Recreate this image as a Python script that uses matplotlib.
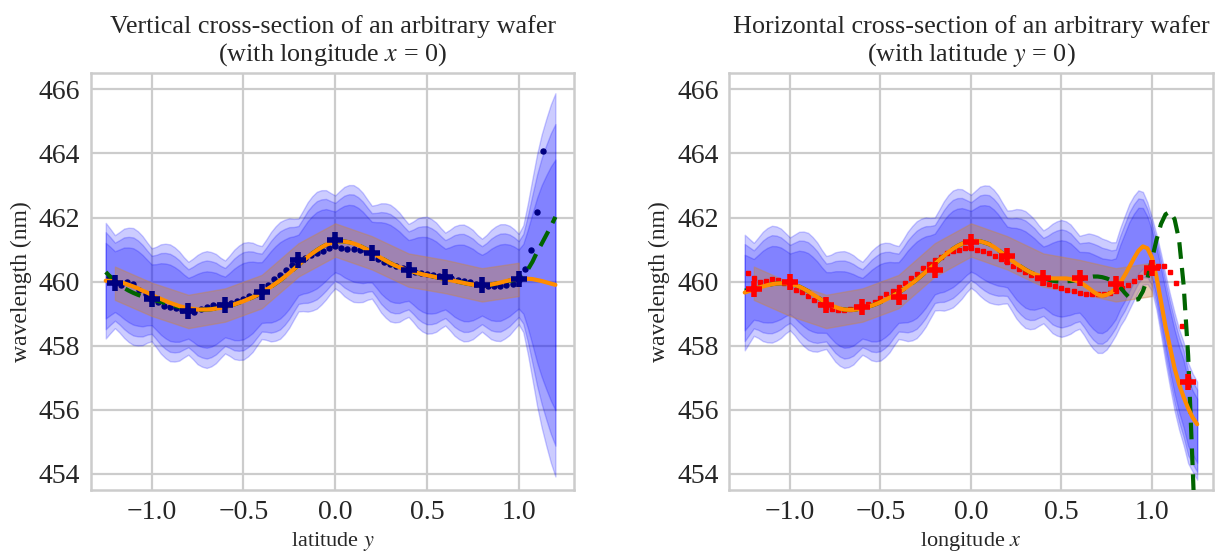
import matplotlib
matplotlib.use("Agg")
import matplotlib.pyplot as plt
import seaborn as sns
import numpy as np

sns.set_style("whitegrid")
plt.rcParams['font.family'] = ['Liberation Serif', 'DejaVu Serif']
plt.rcParams['mathtext.fontset'] = 'stix'

# ======================= LEFT PANEL (vertical cross-section, x = 0) =======================
cross_x = [-1.2, -1.0, -0.8, -0.6, -0.4, -0.2, 0.0, 0.2, 0.4, 0.6, 0.8, 1.0]
left_cross = [459.95, 459.45, 459.07, 459.27, 459.69, 460.68, 461.30, 460.90, 460.36, 460.16, 459.90, 460.07]
tan_half = 0.52

curve_x_left = [
    -1.25, -1.225, -1.2, -1.175, -1.15, -1.125, -1.1, -1.075, -1.05, -1.025,
    -1.0, -0.975, -0.95, -0.925, -0.9, -0.875, -0.85, -0.825, -0.8, -0.775,
    -0.75, -0.725, -0.7, -0.675, -0.65, -0.625, -0.6, -0.575, -0.55, -0.525,
    -0.5, -0.475, -0.45, -0.425, -0.4, -0.375, -0.35, -0.325, -0.3, -0.275,
    -0.25, -0.225, -0.2, -0.175, -0.15, -0.125, -0.1, -0.075, -0.05, -0.025,
    0.0, 0.025, 0.05, 0.075, 0.1, 0.125, 0.15, 0.175, 0.2, 0.225,
    0.25, 0.275, 0.3, 0.325, 0.35, 0.375, 0.4, 0.425, 0.45, 0.475,
    0.5, 0.525, 0.55, 0.575, 0.6, 0.625, 0.65, 0.675, 0.7, 0.725,
    0.75, 0.775, 0.8, 0.825, 0.85, 0.875, 0.9, 0.925, 0.95, 0.975,
    1.0, 1.025, 1.05, 1.075, 1.1, 1.125, 1.15, 1.175, 1.2]
orange_left = [
    460.03, 460.02, 460.00, 459.98, 459.95, 459.90, 459.85, 459.79, 459.72, 459.66,
    459.59, 459.52, 459.46, 459.40, 459.34, 459.29, 459.24, 459.20, 459.17, 459.15,
    459.13, 459.13, 459.13, 459.14, 459.16, 459.18, 459.21, 459.25, 459.29, 459.34,
    459.39, 459.45, 459.51, 459.58, 459.66, 459.75, 459.84, 459.94, 460.04, 460.15,
    460.27, 460.39, 460.52, 460.65, 460.77, 460.88, 460.98, 461.07, 461.15, 461.20,
    461.24, 461.26, 461.25, 461.23, 461.19, 461.14, 461.07, 461.00, 460.92, 460.83,
    460.74, 460.66, 460.58, 460.51, 460.45, 460.40, 460.35, 460.31, 460.27, 460.23,
    460.20, 460.17, 460.14, 460.11, 460.08, 460.05, 460.02, 459.99, 459.96, 459.93,
    459.91, 459.89, 459.89, 459.89, 459.91, 459.94, 459.97, 460.01, 460.04, 460.07,
    460.08, 460.09, 460.09, 460.08, 460.05, 460.02, 459.98, 459.94, 459.90]
green_left = [
    460.30, 460.15, 460.02, 459.90, 459.80, 459.72, 459.65, 459.59, 459.54, 459.49,
    459.45, 459.41, 459.37, 459.33, 459.29, 459.25, 459.21, 459.18, 459.15, 459.13,
    459.12, 459.12, 459.13, 459.14, 459.16, 459.18, 459.21, 459.25, 459.29, 459.34,
    459.39, 459.45, 459.51, 459.58, 459.66, 459.75, 459.84, 459.94, 460.04, 460.15,
    460.27, 460.39, 460.52, 460.65, 460.77, 460.88, 460.98, 461.07, 461.15, 461.20,
    461.24, 461.26, 461.25, 461.23, 461.19, 461.14, 461.07, 461.00, 460.92, 460.83,
    460.74, 460.66, 460.58, 460.51, 460.45, 460.40, 460.35, 460.31, 460.27, 460.23,
    460.20, 460.17, 460.14, 460.11, 460.08, 460.05, 460.02, 459.99, 459.96, 459.93,
    459.91, 459.89, 459.89, 459.89, 459.91, 459.94, 459.97, 460.00, 460.03, 460.05,
    460.10, 460.20, 460.38, 460.62, 460.92, 461.18, 461.45, 461.72, 462.02]
# standard deviation of the blue confidence bands (centred on the orange curve)
sigma_left = [
    0.92, 0.83,
    0.74, 0.80, 0.87, 0.91, 0.93, 0.91, 0.87, 0.80,
    0.74, 0.80, 0.87, 0.91, 0.93, 0.91, 0.87, 0.80,
    0.74, 0.80, 0.87, 0.91, 0.93, 0.91, 0.87, 0.80,
    0.74, 0.80, 0.87, 0.91, 0.93, 0.91, 0.87, 0.80,
    0.74, 0.80, 0.87, 0.91, 0.93, 0.91, 0.87, 0.80,
    0.74, 0.80, 0.87, 0.91, 0.93, 0.91, 0.87, 0.80,
    0.74, 0.80, 0.87, 0.91, 0.93, 0.91, 0.87, 0.80,
    0.74, 0.80, 0.87, 0.91, 0.93, 0.91, 0.87, 0.80,
    0.74, 0.80, 0.87, 0.91, 0.93, 0.91, 0.87, 0.80,
    0.74, 0.80, 0.87, 0.91, 0.93, 0.91, 0.87, 0.80,
    0.74, 0.80, 0.87, 0.91, 0.93, 0.91, 0.87, 0.80,
    0.72, 0.85, 1.20, 1.60, 2.00, 2.33, 2.60, 2.85, 3.05]

dots_x_left = [-1.233, -1.2, -1.167, -1.133, -1.1, -1.067, -1.033, -1.0, -0.967, -0.933, -0.9, -0.867,
               -0.833, -0.8, -0.767, -0.733, -0.7, -0.667, -0.633, -0.6, -0.567, -0.533, -0.5, -0.467,
               -0.433, -0.4, -0.367, -0.333, -0.3, -0.267, -0.233, -0.2, -0.167, -0.133, -0.1, -0.067,
               -0.033, 0.0, 0.033, 0.067, 0.1, 0.133, 0.167, 0.2, 0.233, 0.267, 0.3, 0.333, 0.367, 0.4,
               0.433, 0.467, 0.5, 0.533, 0.567, 0.6, 0.633, 0.667, 0.7, 0.733, 0.767, 0.8, 0.833, 0.867,
               0.9, 0.933, 0.967, 1.0, 1.033, 1.067, 1.1, 1.133]
dots_left = [460.15, 459.95, 459.90, 460.00, 459.92, 459.75, 459.60, 459.45, 459.35, 459.24, 459.20, 459.17,
             459.12, 459.07, 459.05, 459.15, 459.22, 459.26, 459.28, 459.27, 459.32, 459.40, 459.47, 459.55,
             459.62, 459.69, 459.90, 460.08, 460.20, 460.35, 460.52, 460.68, 460.75, 460.83, 460.90, 460.97,
             461.05, 461.10, 461.04, 461.02, 461.02, 461.00, 460.95, 460.88, 460.72, 460.62, 460.55, 460.48,
             460.42, 460.36, 460.30, 460.26, 460.23, 460.20, 460.17, 460.14, 460.10, 460.06, 460.02, 459.98,
             459.94, 459.90, 459.87, 459.86, 459.86, 459.88, 459.93, 460.05, 460.39, 460.99, 462.16, 464.07]

# ======================= RIGHT PANEL (horizontal cross-section, y = 0) =======================
cross_x_right = [-1.2, -1.0, -0.8, -0.6, -0.4, -0.2, 0.0, 0.2, 0.4, 0.6, 0.8, 1.0, 1.2]
right_cross = [459.76, 460.00, 459.27, 459.22, 459.51, 460.36, 461.25, 460.80, 460.10, 460.10, 459.93, 460.42, 456.88]

curve_x_right = [
    -1.25, -1.225, -1.2, -1.175, -1.15, -1.125, -1.1, -1.075, -1.05, -1.025,
    -1.0, -0.975, -0.95, -0.925, -0.9, -0.875, -0.85, -0.825, -0.8, -0.775,
    -0.75, -0.725, -0.7, -0.675, -0.65, -0.625, -0.6, -0.575, -0.55, -0.525,
    -0.5, -0.475, -0.45, -0.425, -0.4, -0.375, -0.35, -0.325, -0.3, -0.275,
    -0.25, -0.225, -0.2, -0.175, -0.15, -0.125, -0.1, -0.075, -0.05, -0.025,
    0.0, 0.025, 0.05, 0.075, 0.1, 0.125, 0.15, 0.175, 0.2, 0.225,
    0.25, 0.275, 0.3, 0.325, 0.35, 0.375, 0.4, 0.425, 0.45, 0.475,
    0.5, 0.525, 0.55, 0.575, 0.6, 0.625, 0.65, 0.675, 0.7, 0.725,
    0.75, 0.775, 0.8, 0.825, 0.85, 0.875, 0.9, 0.925, 0.95, 0.975,
    1.0, 1.025, 1.05, 1.075, 1.1, 1.125, 1.15, 1.175, 1.2, 1.225,
    1.25]
orange_right = [
    459.66, 459.71, 459.76, 459.81, 459.85, 459.89, 459.92, 459.94, 459.95, 459.95,
    459.93, 459.90, 459.85, 459.78, 459.70, 459.61, 459.52, 459.43, 459.35, 459.27,
    459.21, 459.16, 459.13, 459.12, 459.12, 459.14, 459.17, 459.21, 459.25, 459.30,
    459.36, 459.43, 459.50, 459.58, 459.66, 459.75, 459.85, 459.95, 460.06, 460.18,
    460.30, 460.42, 460.55, 460.68, 460.80, 460.92, 461.02, 461.11, 461.18, 461.23,
    461.26, 461.27, 461.26, 461.22, 461.17, 461.09, 460.99, 460.88, 460.77, 460.66,
    460.56, 460.47, 460.38, 460.30, 460.24, 460.19, 460.15, 460.12, 460.10, 460.10,
    460.10, 460.10, 460.08, 460.04, 459.98, 459.90, 459.80, 459.69, 459.60, 459.56,
    459.59, 459.66, 459.78, 459.97, 460.20, 460.46, 460.72, 460.96, 461.10, 461.04,
    460.75, 460.15, 459.38, 458.60, 457.95, 457.30, 456.80, 456.40, 456.05, 455.76,
    455.55]
green_right = [
    459.72, 459.74, 459.76, 459.81, 459.85, 459.89, 459.92, 459.94, 459.95, 459.95,
    459.93, 459.90, 459.85, 459.78, 459.70, 459.61, 459.52, 459.43, 459.35, 459.27,
    459.21, 459.16, 459.13, 459.12, 459.12, 459.14, 459.17, 459.21, 459.25, 459.30,
    459.36, 459.43, 459.50, 459.58, 459.66, 459.75, 459.85, 459.95, 460.06, 460.18,
    460.30, 460.42, 460.55, 460.68, 460.80, 460.92, 461.02, 461.11, 461.18, 461.23,
    461.26, 461.27, 461.26, 461.22, 461.17, 461.09, 460.99, 460.88, 460.77, 460.66,
    460.56, 460.47, 460.38, 460.30, 460.24, 460.19, 460.15, 460.07, 460.03, 460.01,
    460.00, 460.01, 460.02, 460.04, 460.06, 460.10, 460.14, 460.16, 460.16, 460.14,
    460.10, 460.04, 459.95, 459.82, 459.65, 459.50, 459.43, 459.45, 459.70, 460.10,
    460.70, 461.30, 461.80, 462.10, 462.18, 461.95, 461.30, 459.90, 457.70, 454.20,
    450.50]
band_center_right = [
    459.66, 459.71, 459.76, 459.81, 459.85, 459.89, 459.92, 459.94, 459.95, 459.95,
    459.93, 459.90, 459.85, 459.78, 459.70, 459.61, 459.52, 459.43, 459.35, 459.27,
    459.21, 459.16, 459.13, 459.12, 459.12, 459.14, 459.17, 459.21, 459.25, 459.30,
    459.36, 459.43, 459.50, 459.58, 459.66, 459.75, 459.85, 459.95, 460.06, 460.18,
    460.30, 460.42, 460.55, 460.68, 460.80, 460.92, 461.02, 461.11, 461.18, 461.23,
    461.26, 461.27, 461.26, 461.22, 461.17, 461.09, 460.99, 460.88, 460.77, 460.66,
    460.56, 460.47, 460.38, 460.30, 460.24, 460.19, 460.15, 460.12, 460.10, 460.10,
    460.10, 460.10, 460.08, 460.04, 459.98, 459.90, 459.80, 459.69, 459.60, 459.56,
    459.59, 459.66, 459.78, 460.15, 460.45, 460.78, 461.05, 461.28, 461.35, 461.20,
    460.85, 460.30, 459.60, 458.85, 458.15, 457.50, 456.95, 456.50, 455.90, 455.60,
    455.35]
sigma_right = [
    0.92, 0.83,
    0.74, 0.80, 0.87, 0.91, 0.93, 0.91, 0.87, 0.80,
    0.74, 0.80, 0.87, 0.91, 0.93, 0.91, 0.87, 0.80,
    0.74, 0.80, 0.87, 0.91, 0.93, 0.91, 0.87, 0.80,
    0.74, 0.80, 0.87, 0.91, 0.93, 0.91, 0.87, 0.80,
    0.74, 0.80, 0.87, 0.91, 0.93, 0.91, 0.87, 0.80,
    0.74, 0.80, 0.87, 0.91, 0.93, 0.91, 0.87, 0.80,
    0.74, 0.80, 0.87, 0.91, 0.93, 0.91, 0.87, 0.80,
    0.74, 0.80, 0.87, 0.91, 0.93, 0.91, 0.87, 0.80,
    0.74, 0.80, 0.87, 0.91, 0.93, 0.91, 0.87, 0.80,
    0.74, 0.80, 0.87, 0.91, 0.93, 0.91, 0.87, 0.80,
    0.74, 0.78, 0.82, 0.84, 0.83, 0.80, 0.74, 0.65, 0.58, 0.60,
    0.65, 0.70, 0.74, 0.78, 0.80, 0.82, 0.80, 0.78, 0.78]

dots_x_right = [-1.233, -1.2, -1.167, -1.133, -1.1, -1.067, -1.033, -1.0, -0.967, -0.933, -0.9, -0.867,
                -0.833, -0.8, -0.767, -0.733, -0.7, -0.667, -0.633, -0.6, -0.567, -0.533, -0.5, -0.467,
                -0.433, -0.4, -0.367, -0.333, -0.3, -0.267, -0.233, -0.2, -0.167, -0.133, -0.1, -0.067,
                -0.033, 0.0, 0.033, 0.067, 0.1, 0.133, 0.167, 0.2, 0.233, 0.267, 0.3, 0.333, 0.367, 0.4,
                0.433, 0.467, 0.5, 0.533, 0.567, 0.6, 0.633, 0.667, 0.7, 0.733, 0.767, 0.8, 0.833, 0.867,
                0.9, 0.933, 0.967, 1.0, 1.033, 1.067, 1.1, 1.133, 1.167, 1.2]
dots_right = [460.28, 460.10, 460.00, 460.02, 460.07, 460.05, 459.95, 459.85, 459.75, 459.69, 459.55, 459.42,
              459.30, 459.22, 459.15, 459.12, 459.12, 459.15, 459.20, 459.24, 459.30, 459.38, 459.48, 459.60,
              459.70, 459.83, 459.95, 460.10, 460.25, 460.42, 460.55, 460.68, 460.78, 460.88, 460.95, 461.00,
              461.05, 461.05, 461.00, 460.95, 460.88, 460.80, 460.70, 460.60, 460.50, 460.40, 460.30, 460.20,
              460.10, 460.00, 459.92, 459.85, 459.80, 459.75, 459.70, 459.65, 459.62, 459.60, 459.60, 459.62,
              459.66, 459.72, 459.80, 459.90, 460.02, 460.15, 460.30, 460.42, 460.48, 460.50, 460.31, 459.95,
              458.62, 456.90]

z_levels = [1.2816, 1.6449, 1.96]   # 80 %, 90 %, 95 % bands


def pair(x, y):
    n = min(len(x), len(y))
    return np.asarray(x[:n], float), np.asarray(y[:n], float)


# ---------------- figure ----------------
W, H = 1215, 554
fig = plt.figure(figsize=(W / 100, H / 100), dpi=100)
ax1 = fig.add_axes([90.7 / W, 64 / H, 483.6 / W, 416.7 / H])
ax2 = fig.add_axes([729 / W, 64 / H, 484.3 / W, 416.7 / H])


def draw_band(ax, bx, bc, bs):
    n = min(len(bx), len(bc), len(bs))
    bx = np.asarray(bx[:n]); bc = np.asarray(bc[:n]); bs = np.asarray(bs[:n])
    for zz in z_levels:
        ax.fill_between(bx, bc - zz * bs, bc + zz * bs, color='blue', alpha=0.2, lw=1.0, zorder=2)


def draw_tan(ax):
    x, c = pair(cross_x, left_cross)
    ax.fill_between(x, c - tan_half, c + tan_half, color='peru', alpha=0.4, lw=1.0, zorder=3)


# left panel
draw_band(ax1, curve_x_left, orange_left, sigma_left)
draw_tan(ax1)
ax1.plot(*pair(dots_x_left, dots_left), 'o', color='navy', ms=3.6, zorder=4)
ax1.plot(*pair(curve_x_left, green_left), '--', color='darkgreen', lw=3, dashes=(4, 2.2), zorder=5)
ax1.plot(*pair(curve_x_left, orange_left), '-', color='darkorange', lw=3, zorder=6)
ax1.plot(*pair(cross_x, left_cross), '+', color='navy', ms=12, mew=4, zorder=7)

# right panel
draw_band(ax2, curve_x_right, band_center_right, sigma_right)
draw_tan(ax2)
ax2.plot(*pair(dots_x_right, dots_right), 's', color='red', ms=2.4, zorder=4)
ax2.plot(*pair(curve_x_right, green_right), '--', color='darkgreen', lw=3, dashes=(4, 2.2), zorder=5)
ax2.plot(*pair(curve_x_right, orange_right), '-', color='darkorange', lw=3, zorder=6)
ax2.plot(*pair(cross_x_right, right_cross), '+', color='red', ms=12, mew=4, zorder=7)

titles = ["Vertical cross-section of an arbitrary wafer\n(with longitude $x$ = 0)",
          "Horizontal cross-section of an arbitrary wafer\n(with latitude $y$ = 0)"]
xlabels = ["latitude $y$", "longitude $x$"]
xlims = [(-1.332, 1.303), (-1.337, 1.339)]

for ax, t, xl, lim in zip([ax1, ax2], titles, xlabels, xlims):
    ax.set_xlim(*lim)
    ax.set_ylim(453.5, 466.5)
    ax.set_yticks([454, 456, 458, 460, 462, 464, 466])
    ax.set_xticks([-1.0, -0.5, 0.0, 0.5, 1.0])
    ax.tick_params(labelsize=20, pad=4)
    ax.set_title(t, fontsize=18.8, pad=9, linespacing=1.15)
    ax.set_xlabel(xl, fontsize=16, labelpad=3)
    ax.set_ylabel("wavelength (nm)", fontsize=17, labelpad=5)
    ax.grid(True, color='#cccccc', lw=1.6)
    for s in ax.spines.values():
        s.set_color('#cccccc')
        s.set_linewidth(1.8)

fig.savefig("out.png", dpi=100)
